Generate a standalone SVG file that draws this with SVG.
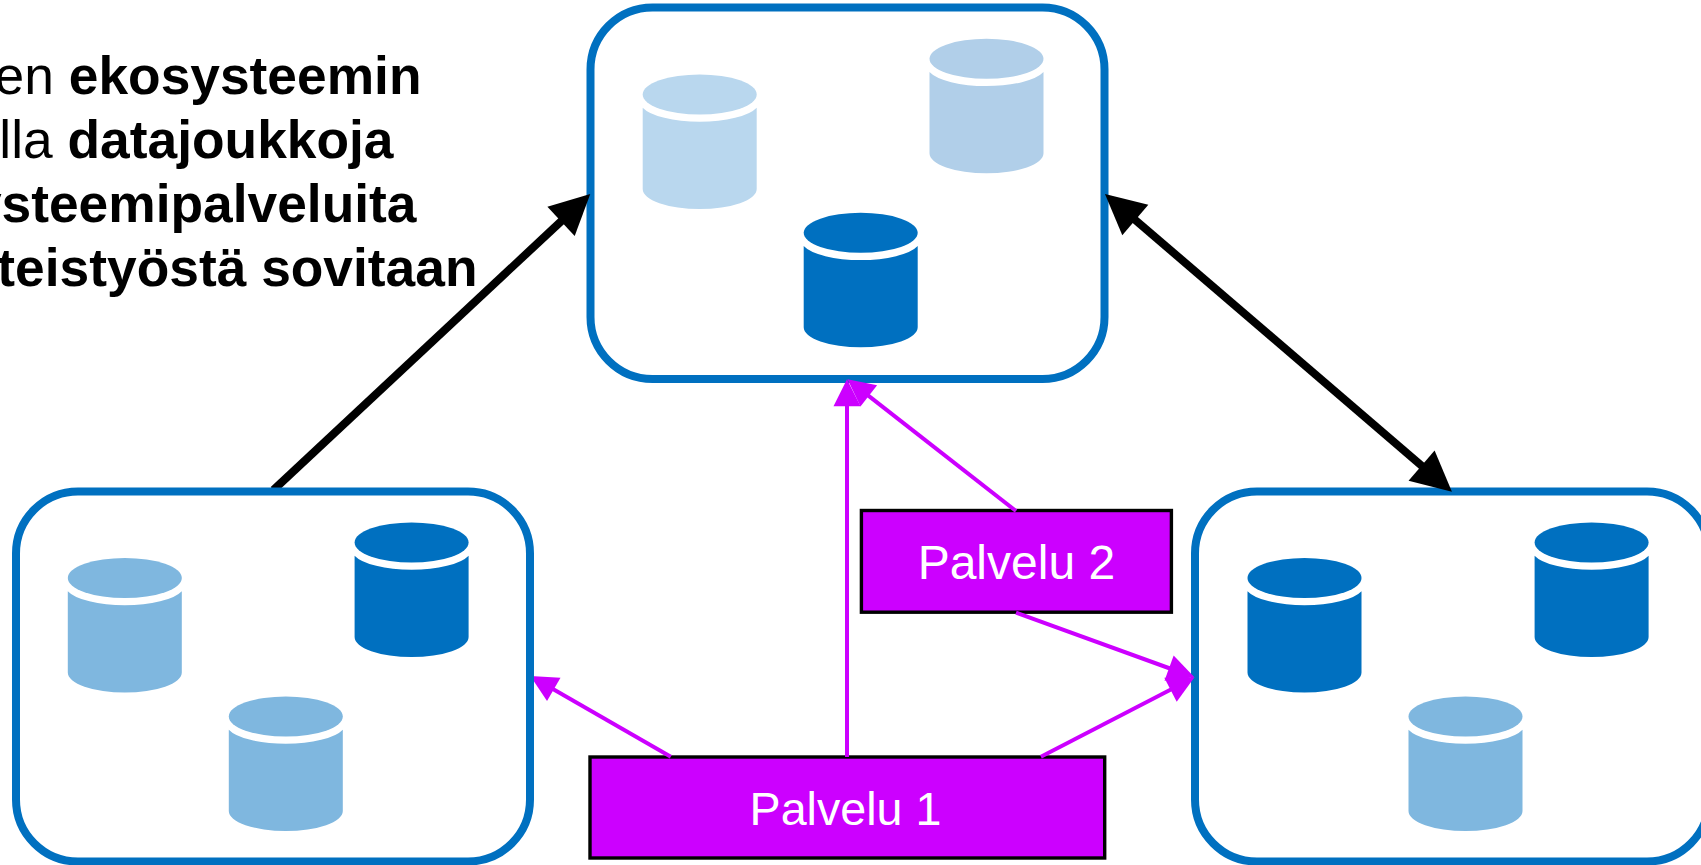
<svg xmlns="http://www.w3.org/2000/svg" xmlns:xlink="http://www.w3.org/1999/xlink" width="1701" height="865" viewBox="0 0 1701 865">
<style>
text{font-family:"Liberation Sans",Arial,sans-serif}
.lead{font-size:53.33px;fill:#000;text-anchor:end}
.lead .b{font-weight:bold}
.eco{fill:#fff;stroke:#0070c0;stroke-width:8}
.svc{fill:#cc00ff;stroke:#000;stroke-width:3.4}
.svct{font-size:46.67px;fill:#fff;text-anchor:middle}
.blk{fill:none;stroke:#000;stroke-width:8}
.pur{fill:none;stroke:#cc00ff;stroke-width:4}
.d{fill:#0070c0}.l1{fill:#7fb7df}.l2{fill:#b9d7ee}.l3{fill:#b1cfe9}
</style>
<defs>
<g id="cyl">
<ellipse cx="0" cy="0" rx="57" ry="20"/>
<path d="M-57,13.2 A59.75,20 0 0 0 57,13.2 L57,94.5 A57,20 0 0 1 -57,94.5 Z"/>
</g>
<marker id="ah" markerUnits="userSpaceOnUse" markerWidth="42" markerHeight="42" viewBox="0 -21 42 42" refX="2" refY="0" orient="auto-start-reverse" overflow="visible"><path d="M0,-20 L40,0 L0,20 Z" fill="#000"/></marker>
<marker id="ap" markerUnits="userSpaceOnUse" markerWidth="30" markerHeight="30" viewBox="0 -15 30 30" refX="1" refY="0" orient="auto" overflow="visible"><path d="M0,-13.5 L27,0 L0,13.5 Z" fill="#cc00ff"/></marker>
</defs>
<rect width="1701" height="865" fill="#fff"/>
<g id="lead-text" class="lead">
<text x="421.5" y="94.3"><tspan>en </tspan><tspan class="b">ekosysteemin</tspan></text>
<text x="393.5" y="158.3"><tspan>lla </tspan><tspan class="b">datajoukkoja</tspan></text>
<text class="b" x="416.5" y="222" font-weight="bold">ysteemipalveluita</text>
<text class="b" x="477.5" y="286" font-weight="bold">teistyöstä sovitaan</text>
</g>
<g id="ecosystem-top">
<rect class="eco" x="590.5" y="7.5" width="514" height="371.5" rx="62" ry="62"/>
<use href="#cyl" class="l2" x="699.7" y="94.5"/>
<use href="#cyl" class="l3" x="986.5" y="58.8"/>
<use href="#cyl" class="d" x="860.7" y="232.8"/>
</g>
<g id="ecosystem-right">
<rect class="eco" x="1195" y="491.5" width="514" height="370" rx="62" ry="62"/>
<use href="#cyl" class="d" x="1304.5" y="578"/>
<use href="#cyl" class="d" x="1591.6" y="542.5"/>
<use href="#cyl" class="l1" x="1465.5" y="716.5"/>
</g>
<g id="palvelu-1">
<rect class="svc" x="590" y="757" width="514.7" height="101"/>
<text class="svct" x="845.5" y="825">Palvelu 1</text>
</g>
<g id="palvelu-2">
<rect class="svc" x="861.4" y="510.5" width="310" height="101.7"/>
<text class="svct" x="1016.4" y="579" style="font-size:48px">Palvelu 2</text>
</g>
<g id="connectors">
<path class="blk" d="M273.4,490 L562.5,220" marker-end="url(#ah)"/>
<path class="blk" d="M1133.8,218.7 L1423.1,467" marker-start="url(#ah)" marker-end="url(#ah)"/>
<path class="pur" d="M847,757 L847,405.3" marker-end="url(#ap)"/>
<path class="pur" d="M1016,511 L868,395.3" marker-end="url(#ap)"/>
<path class="pur" d="M1016,612.7 L1170,668.5" marker-end="url(#ap)"/>
<path class="pur" d="M1040.9,756.7 L1171.4,689.2" marker-end="url(#ap)"/>
<path class="pur" d="M670.8,756.7 L552.9,688.9" marker-end="url(#ap)"/>
</g>
<g id="ecosystem-left">
<rect class="eco" x="16" y="491.5" width="514" height="370" rx="62" ry="62"/>
<use href="#cyl" class="l1" x="124.8" y="578"/>
<use href="#cyl" class="d" x="411.6" y="542.5"/>
<use href="#cyl" class="l1" x="285.8" y="716.5"/>
</g>
</svg>
